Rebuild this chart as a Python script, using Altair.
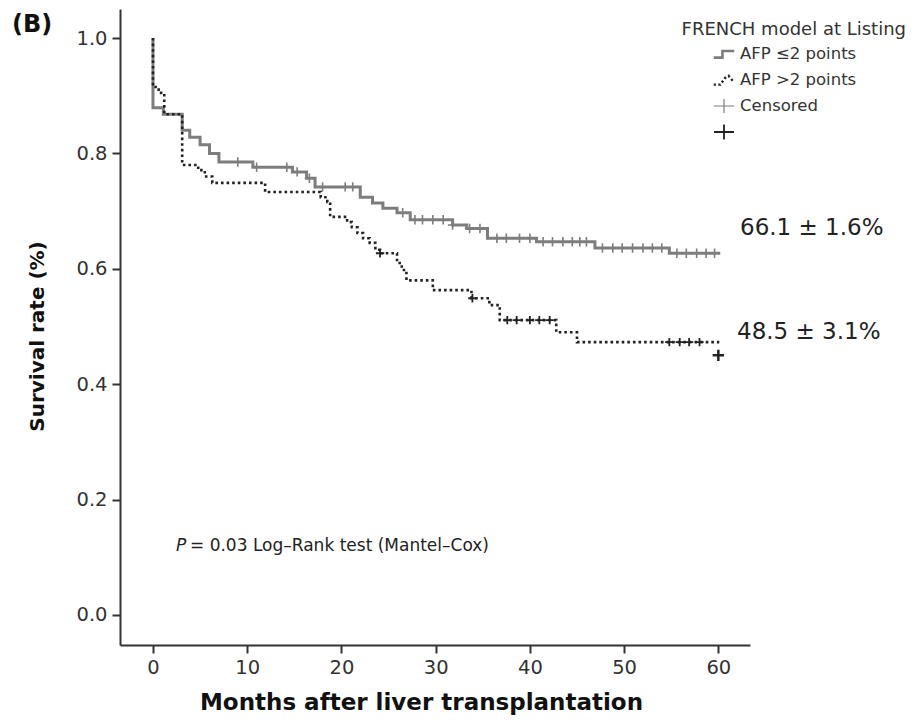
import altair as alt
import pandas as pd
import numpy as np

# ---- data ----
# AFP <=2 points (solid grey)
low_t = [0, 0, 1.1, 3.1, 3.9, 5.0, 6.0, 7.0, 10.6, 14.8, 16.3, 17.2, 22.0, 23.3, 24.4,
         25.9, 27.3, 31.8, 33.3, 35.5, 40.7, 46.9, 54.8, 60.2]
low_s = [1.0, 0.879, 0.868, 0.840, 0.828, 0.815, 0.800, 0.785, 0.776, 0.768, 0.757, 0.742,
         0.724, 0.714, 0.705, 0.697, 0.685, 0.676, 0.670, 0.653, 0.647, 0.636, 0.627, 0.627]
low_cens = [9.0, 11.0, 14.2, 15.3, 16.6, 18.0, 20.4, 21.2, 26.5, 27.8, 28.6, 29.7, 30.8,
            31.8, 33.6, 34.7, 36.5, 37.5, 38.9, 40.0, 41.4, 42.4, 43.5, 44.5, 45.3, 46.0,
            47.7, 48.8, 49.8, 50.9, 52.0, 53.0, 54.0, 55.6, 56.6, 57.7, 58.7, 59.6]

# AFP >2 points (dotted black)
high_t = [0, 0, 0.6, 1.2, 3.1, 4.8, 5.5, 6.3, 11.9, 17.8, 18.5, 18.8, 20.6, 21.1, 21.7,
          22.3, 23.0, 23.6, 24.1, 25.9, 26.4, 26.9, 29.7, 33.8, 35.7, 36.8, 42.8, 45.0, 60.1]
high_s = [1.0, 0.915, 0.905, 0.868, 0.780, 0.771, 0.760, 0.749, 0.733, 0.724, 0.716, 0.690,
          0.681, 0.672, 0.662, 0.653, 0.645, 0.633, 0.627, 0.610, 0.598, 0.580, 0.563,
          0.549, 0.537, 0.511, 0.490, 0.473, 0.473]
high_cens = [24.1, 33.9, 37.6, 38.6, 40.0, 41.0, 42.1, 54.8, 55.9, 56.9, 58.0]
extra_cens_t = [60.0]
extra_cens_s = [0.45]

x_ticks = [0, 10, 20, 30, 40, 50, 60]
y_ticks = [0.0, 0.2, 0.4, 0.6, 0.8, 1.0]
legend_title = "FRENCH model at Listing"
legend_labels = ["AFP \u22642 points", "AFP >2 points", "Censored", ""]
annot_low = "66.1 \u00b1 1.6%"
annot_high = "48.5 \u00b1 3.1%"
p_rest = "= 0.03 Log\u2013Rank test (Mantel\u2013Cox)"
panel = "(B)"

FONT = "DejaVu Sans"
GREY = "#7d7d7d"
BLACK = "#222222"


def step_value(ts, ss, t):
    idx = np.searchsorted(np.array(ts), t, side="right") - 1
    return ss[max(idx, 0)]


low_df = pd.DataFrame({"t": low_t, "s": low_s, "o": range(len(low_t))})
high_df = pd.DataFrame({"t": high_t, "s": high_s, "o": range(len(high_t))})
low_c_df = pd.DataFrame({"t": low_cens, "s": [step_value(low_t, low_s, c) for c in low_cens]})
high_c_df = pd.DataFrame({"t": high_cens, "s": [step_value(high_t, high_s, c) for c in high_cens]})
extra_df = pd.DataFrame({"t": extra_cens_t, "s": extra_cens_s})

xs = alt.Scale(domain=[-3.5, 63.36], nice=False, zero=False)
ys = alt.Scale(domain=[-0.052, 1.0503], nice=False, zero=False)

x_enc = alt.X("t:Q", scale=xs, axis=alt.Axis(
    values=x_ticks, title="Months after liver transplantation", format="d",
    titleX=301, titleY=64, titleBaseline="alphabetic", titleAlign="center"))
y_enc = alt.Y("s:Q", scale=ys, axis=alt.Axis(
    values=y_ticks, format=".1f", title="Survival rate (%)",
    titleX=-83, titleY=327, titleAngle=270, titleAlign="center", titleBaseline="middle"))

low_line = alt.Chart(low_df).mark_line(
    interpolate="step-after", color=GREY, strokeWidth=3
).encode(x=x_enc, y=y_enc, order="o:Q")

high_line = alt.Chart(high_df).mark_line(
    interpolate="step-after", color=BLACK, strokeWidth=2.6, strokeDash=[2.6, 3]
).encode(x="t:Q", y="s:Q", order="o:Q")

PLUS = "M-1,0L1,0M0,-1L0,1"
low_c = alt.Chart(low_c_df).mark_point(
    shape=PLUS, filled=False, color=GREY, strokeWidth=1.6, size=90, opacity=1
).encode(x="t:Q", y="s:Q")
high_c = alt.Chart(high_c_df).mark_point(
    shape=PLUS, filled=False, color=BLACK, strokeWidth=1.8, size=70, opacity=1
).encode(x="t:Q", y="s:Q")
extra_c = alt.Chart(extra_df).mark_point(
    shape=PLUS, filled=False, color=BLACK, strokeWidth=2.5, size=130, opacity=1
).encode(x="t:Q", y="s:Q")

base = alt.Chart(pd.DataFrame({"a": [0]}))


def txt(text, x, y, size, align="left", weight="normal", style="normal", color="#222222"):
    return base.mark_text(
        text=text, align=align, baseline="middle", font=FONT, fontSize=size,
        fontWeight=weight, fontStyle=style, color=color
    ).encode(x=alt.value(x), y=alt.value(y))


def sym(shape, x, y, size, color, width, dash=None):
    kw = dict(shape=shape, filled=False, color=color, strokeWidth=width, size=size, opacity=1)
    if dash:
        kw["strokeDash"] = dash
    return base.mark_point(**kw).encode(x=alt.value(x), y=alt.value(y))


annots = [
    txt(panel, -108, 16, 24, weight="bold", color="#111111"),
    txt(legend_title, 786, 21, 18, align="right", color="#333333"),
    txt(legend_labels[0], 620, 45, 16.5, color="#333333"),
    txt(legend_labels[1], 620, 71, 16.5, color="#333333"),
    txt(legend_labels[2], 620, 97, 16.5, color="#333333"),
    sym("M-1,0.35L-0.15,0.35L-0.15,-0.3L1,-0.3", 604, 45, 420, GREY, 2.6),
    sym("M-1,0.45L-0.35,0.45L0.1,-0.2L0.45,-0.4L0.95,0.2", 604, 71, 420, BLACK, 2.4, [2.2, 2.4]),
    sym("M-1,0L1,0M0,-0.7L0,0.7", 604, 97, 400, GREY, 1.2),
    sym("M-1,0L1,0M0,-0.75L0,0.75", 604, 123, 400, BLACK, 1.8),
    txt(annot_low, 620, 219, 23),
    txt(annot_high, 617, 323, 23),
    txt("P", 56, 537, 17, style="italic"),
    txt(p_rest, 70, 537, 17),
]

chart = alt.layer(low_line, high_line, low_c, high_c, extra_c, *annots).properties(
    width=630, height=636,
    autosize=alt.AutoSizeParams(type="none"),
    padding={"left": 112, "top": 1, "right": 158, "bottom": 70},
).configure_view(stroke=None).configure_axis(
    grid=False, domainColor="#333333", domainWidth=2, tickColor="#333333", tickWidth=2,
    tickSize=8, labelFont=FONT, labelFontSize=19.5, labelColor="#333333", labelPadding=5,
    titleFont=FONT, titleFontWeight="bold", titleColor="#111111", titleFontSize=20
).configure_axisY(titleFontSize=20).configure_axisX(titleFontSize=23)

chart.save("out.html", embed_options={"renderer": "svg", "actions": False})
